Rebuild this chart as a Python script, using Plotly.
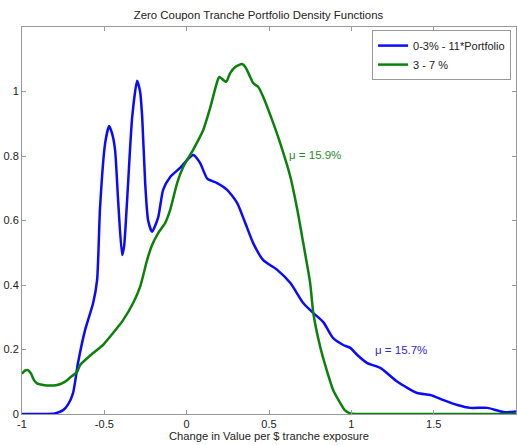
import plotly.graph_objects as go

# Blue series: 0-3% - 11*Portfolio
blue_x = [-1.0, -0.89, -0.80, -0.75, -0.72, -0.69, -0.66, -0.617, -0.568, -0.544, -0.526, -0.495,
          -0.471, -0.453, -0.435, -0.416, -0.392, -0.38, -0.362, -0.331, -0.301, -0.283,
          -0.27, -0.252, -0.234, -0.21, -0.173, -0.143, -0.10, -0.04, 0.003, 0.04, 0.082,
          0.125, 0.185, 0.246, 0.307, 0.356, 0.404, 0.465, 0.55, 0.63, 0.708, 0.769, 0.83,
          0.89, 0.951, 0.994, 1.036, 1.097, 1.176, 1.28, 1.40, 1.48, 1.56, 1.644, 1.723,
          1.827, 1.924, 2.0]
blue_y = [0.0, 0.0, 0.002, 0.012, 0.03, 0.065, 0.158, 0.26, 0.344, 0.415, 0.64, 0.84,
          0.893, 0.87, 0.82, 0.66, 0.493, 0.52, 0.66, 0.92, 1.033, 1.0,
          0.92, 0.716, 0.6, 0.565, 0.61, 0.695, 0.735, 0.763, 0.788, 0.803, 0.778,
          0.73, 0.716, 0.695, 0.654, 0.592, 0.53, 0.477, 0.447, 0.406, 0.344, 0.313, 0.285,
          0.235, 0.214, 0.205, 0.183, 0.158, 0.143, 0.10, 0.065, 0.059, 0.043, 0.028, 0.019,
          0.019, 0.006, 0.008]

# Green series: 3 - 7 %
green_x = [-1.0, -0.98, -0.964, -0.945, -0.927, -0.909, -0.872, -0.83, -0.787, -0.757,
           -0.726, -0.696, -0.666, -0.647, -0.568, -0.508, -0.447, -0.386, -0.325,
           -0.283, -0.24, -0.21, -0.173, -0.131, -0.10, -0.058, -0.021, 0.04, 0.10, 0.143,
           0.185, 0.198, 0.222, 0.24, 0.264, 0.295, 0.337, 0.356, 0.386, 0.404, 0.435,
           0.465, 0.526, 0.568, 0.63, 0.672, 0.708, 0.75, 0.769, 0.81, 0.854, 0.89, 0.933,
           0.96, 0.994, 1.055, 1.5, 2.0]
green_y = [0.125, 0.135, 0.136, 0.125, 0.105, 0.095, 0.09, 0.088, 0.09, 0.095,
           0.105, 0.118, 0.13, 0.152, 0.189, 0.214, 0.251, 0.291, 0.344,
           0.394, 0.478, 0.524, 0.561, 0.592, 0.633, 0.716, 0.766, 0.82, 0.88, 0.95,
           1.03, 1.045, 1.036, 1.03, 1.057, 1.076, 1.085, 1.076, 1.045, 1.026, 1.014,
           0.983, 0.902, 0.84, 0.735, 0.633, 0.53, 0.406, 0.313, 0.21, 0.13, 0.074, 0.034,
           0.012, 0.002, 0.0, 0.0, 0.0]

x_ticks = [-1, -0.5, 0, 0.5, 1, 1.5, 2]
x_tick_labels = ["-1", "-0.5", "0", "0.5", "1", "1.5", "2"]
y_ticks = [0, 0.2, 0.4, 0.6, 0.8, 1.0]
y_tick_labels = ["0", "0.2", "0.4", "0.6", "0.8", "1"]

font_family = "Liberation Sans, Arial, sans-serif"

fig = go.Figure()
fig.add_trace(go.Scatter(x=blue_x, y=blue_y, mode="lines", name="0-3% - 11*Portfolio",
                         line=dict(color="#0a0aff", width=2.5, shape="spline", smoothing=0.6)))
fig.add_trace(go.Scatter(x=green_x, y=green_y, mode="lines", name="3 - 7 %",
                         line=dict(color="#0a820a", width=2.5, shape="spline", smoothing=0.6)))

fig.add_annotation(x=0.781, y=0.803, text="\u03bc = 15.9%", showarrow=False,
                   font=dict(color="#2a8a2a", size=11.5, family=font_family))
fig.add_annotation(x=1.304, y=0.2, text="\u03bc = 15.7%", showarrow=False,
                   font=dict(color="#2a2ae0", size=11.5, family=font_family))

axis_common = dict(showline=True, linecolor="#999999", linewidth=1, mirror="allticks",
                   ticks="inside", ticklen=4, tickcolor="#999999", showgrid=False,
                   zeroline=False, automargin=False,
                   tickfont=dict(size=11, color="#222222", family=font_family))

fig.update_layout(
    width=517, height=445,
    margin=dict(l=22, r=1, t=27, b=31),
    paper_bgcolor="white", plot_bgcolor="white",
    title=dict(text="Zero Coupon Tranche Portfolio Density Functions", x=0.5, xanchor="center",
               y=0.975, yanchor="top", font=dict(size=11.4, color="#222222", family=font_family)),
    xaxis=dict(range=[-1, 2], tickvals=x_ticks, ticktext=x_tick_labels,
               title=dict(text="Change in Value per $ tranche exposure", standoff=0,
                          font=dict(size=11.2, color="#222222", family=font_family)),
               **axis_common),
    yaxis=dict(range=[0, 1.2], tickvals=y_ticks, ticktext=y_tick_labels, **axis_common),
    legend=dict(x=0.99, y=0.992, xanchor="right", yanchor="top", bgcolor="white",
                bordercolor="#999999", borderwidth=1,
                font=dict(size=11, color="#222222", family=font_family),
                tracegroupgap=0),
    showlegend=True,
)

fig.write_html("out.html", config={"displayModeBar": False},
               post_script="document.body.style.margin='0';")
